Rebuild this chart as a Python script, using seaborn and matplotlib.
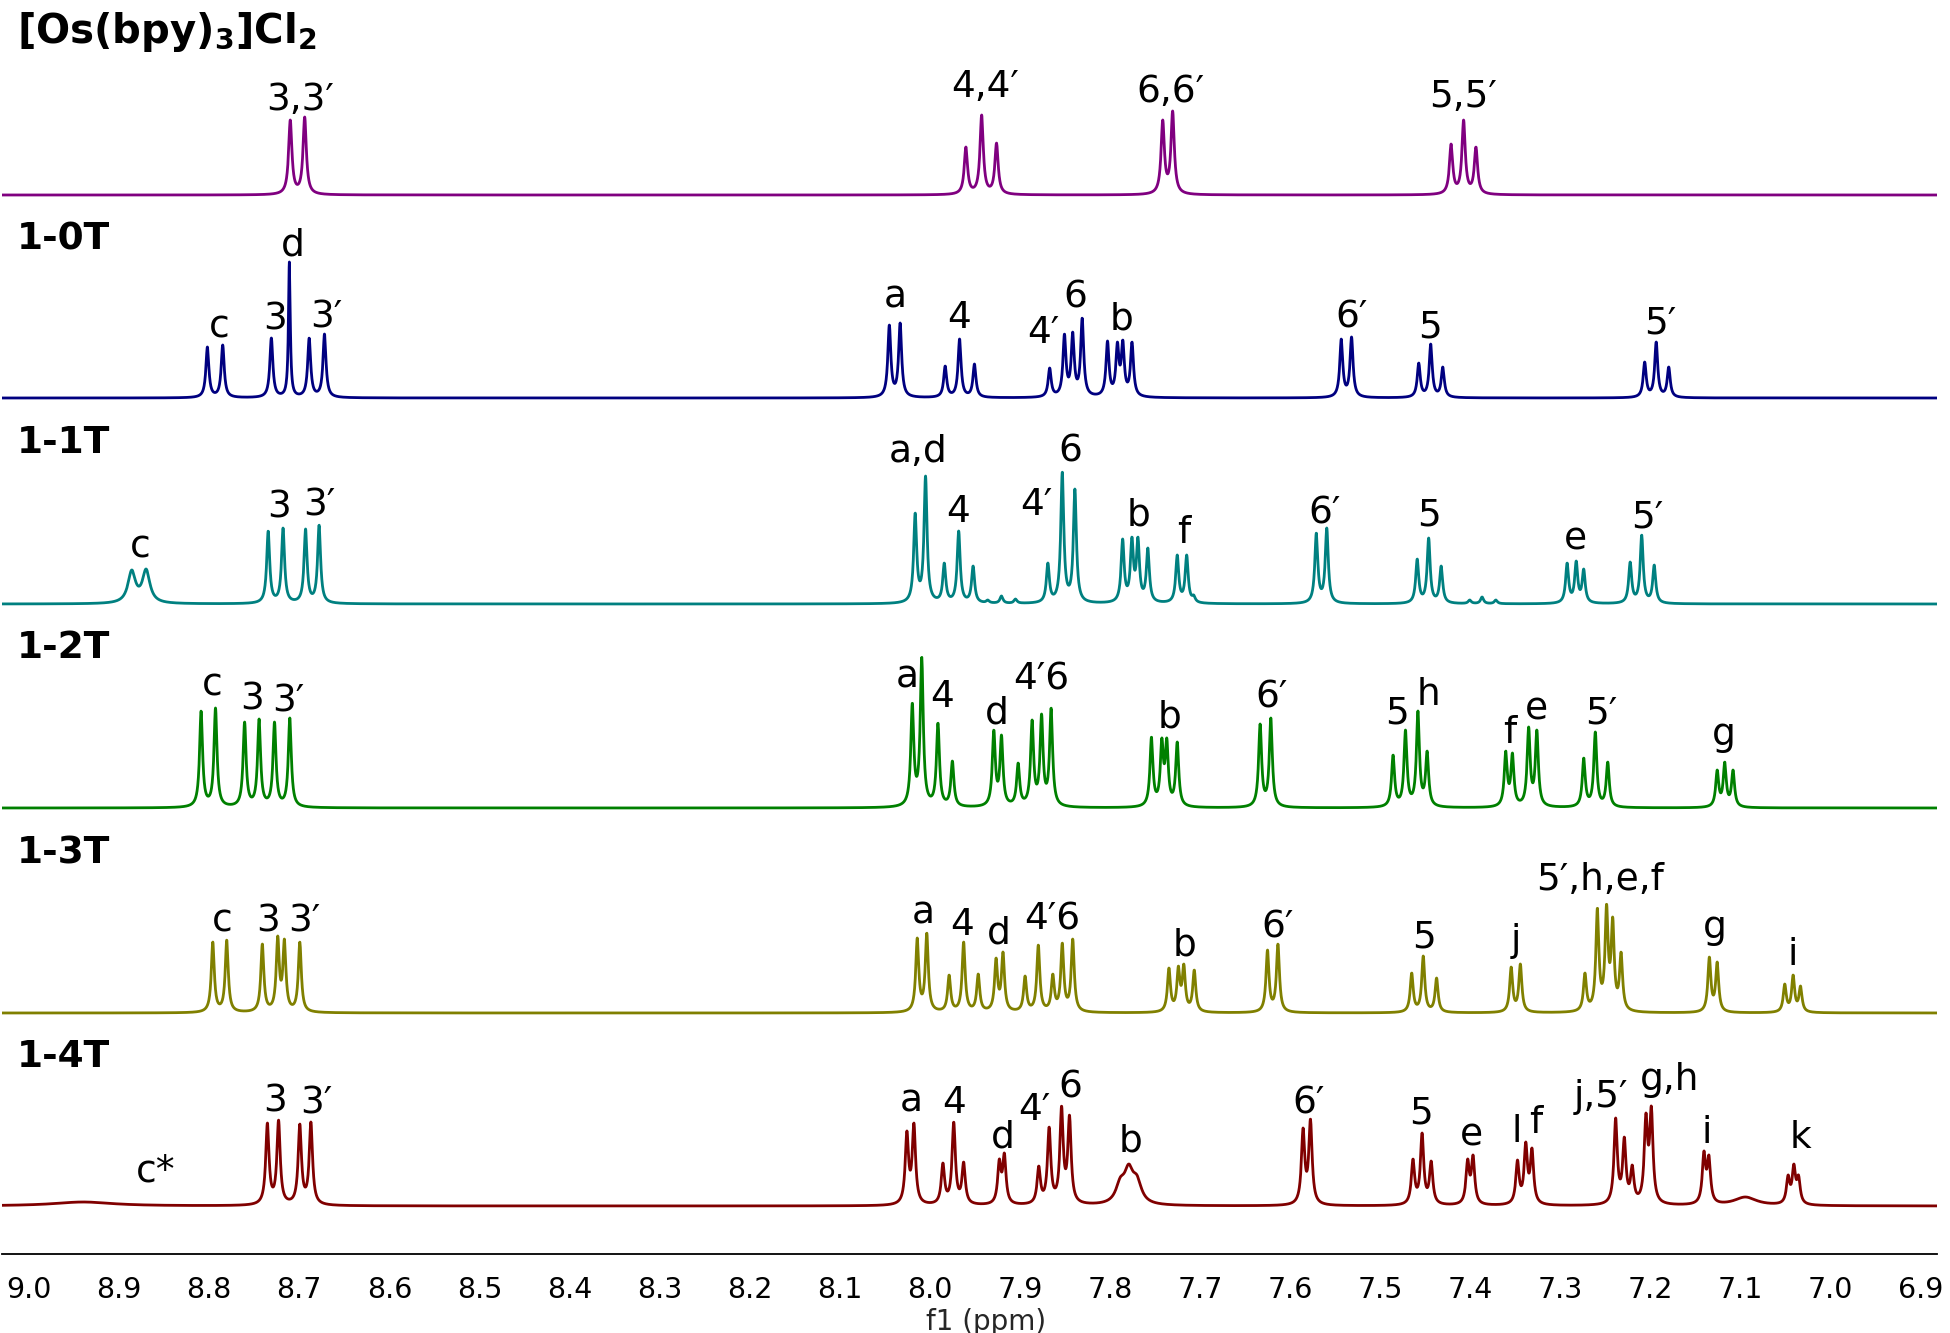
import numpy as np
import pandas as pd
import seaborn as sns
import matplotlib.pyplot as plt

# Peaks: (shift in ppm, peak height in px above baseline[, half width])
os_peaks = [(8.710, 75), (8.694, 78),
            (7.960, 48), (7.9425, 80), (7.926, 52),
            (7.7415, 75), (7.7305, 84),
            (7.4214, 51), (7.4075, 75), (7.3938, 48)]

t0_peaks = [(8.802, 51), (8.785, 53), (8.731, 60), (8.711, 136, 0.0012), (8.689, 60), (8.672, 64),
            (8.045, 73), (8.033, 75), (7.983, 32), (7.967, 59), (7.9505, 34),
            (7.867, 30), (7.8506, 64), (7.8414, 66), (7.8309, 80),
            (7.8028, 57), (7.7918, 56), (7.7858, 58), (7.7756, 56),
            (7.5433, 59), (7.5319, 61), (7.4573, 35), (7.444, 54), (7.4306, 31),
            (7.2065, 36), (7.1937, 56), (7.1798, 31)]

t1_peaks = [(8.886, 34, 0.005), (8.870, 35, 0.005), (8.7345, 73), (8.718, 76), (8.693, 75), (8.678, 79),
            (8.0163, 91), (8.0048, 128), (7.984, 41), (7.968, 73), (7.952, 38),
            (7.9357, 4), (7.9205, 8), (7.9049, 5),
            (7.869, 41), (7.853, 132), (7.839, 115),
            (7.786, 65), (7.7757, 67), (7.769, 67), (7.758, 56),
            (7.7254, 49), (7.7149, 49), (7.7071, 9),
            (7.571, 71), (7.5594, 76), (7.459, 45), (7.4463, 66), (7.4324, 38),
            (7.4007, 4), (7.387, 7), (7.3717, 4),
            (7.2926, 41), (7.2825, 43), (7.2742, 35),
            (7.2226, 42), (7.2098, 69), (7.1959, 39)]

t2_peaks = [(8.809, 97), (8.793, 100), (8.7607, 86), (8.7446, 89), (8.7275, 86), (8.7105, 90),
            (8.0195, 105), (8.009, 151), (7.991, 85), (7.975, 47),
            (7.929, 78), (7.9205, 73), (7.902, 45), (7.8865, 88), (7.876, 94), (7.8654, 100),
            (7.754, 71), (7.7425, 70), (7.737, 70), (7.7254, 66),
            (7.6334, 84), (7.6215, 90),
            (7.4858, 53), (7.472, 78), (7.4582, 97), (7.448, 57),
            (7.3607, 57), (7.3533, 55), (7.3353, 81), (7.3262, 78),
            (7.2741, 50), (7.2613, 76), (7.2475, 46),
            (7.126, 38), (7.1176, 46), (7.1084, 38)]

t3_peaks = [(8.796, 71), (8.7805, 73), (8.741, 69), (8.7239, 77), (8.7165, 74), (8.6994, 71),
            (8.014, 75), (8.0034, 80), (7.9786, 38), (7.9625, 71), (7.9463, 39),
            (7.9265, 55), (7.9188, 61), (7.8943, 37), (7.8796, 68), (7.8635, 39),
            (7.853, 70), (7.8414, 74),
            (7.7346, 45), (7.7241, 47), (7.7181, 49), (7.7065, 43),
            (7.6252, 63), (7.6136, 69),
            (7.4651, 40), (7.4523, 57), (7.4375, 35), (7.3547, 46), (7.3445, 49),
            (7.2728, 40), (7.259, 105), (7.2488, 109), (7.242, 96), (7.2327, 61),
            (7.1347, 56), (7.126, 51), (7.051, 29), (7.0417, 38), (7.0335, 27)]

t4_peaks = [(8.94, 4, 0.04), (8.7354, 83), (8.723, 86), (8.6994, 82), (8.6871, 84),
            (8.0255, 75), (8.0177, 83), (7.9855, 43), (7.9735, 84), (7.9625, 44),
            (7.9229, 47), (7.9173, 53), (7.8791, 40), (7.8676, 79), (7.8538, 100), (7.845, 91),
            (7.7885, 29, 0.006), (7.7792, 42, 0.006), (7.7701, 31, 0.006),
            (7.5857, 78), (7.5775, 87), (7.4637, 47), (7.4536, 73), (7.4435, 45),
            (7.403, 47), (7.397, 51), (7.3477, 46), (7.3385, 64), (7.3316, 58),
            (7.2387, 88), (7.2291, 69), (7.2203, 41), (7.2051, 93), (7.1991, 100),
            (7.1407, 55), (7.1352, 51), (7.0947, 9, 0.015),
            (7.0473, 31), (7.0409, 42), (7.0357, 31)]

# peak assignments: (text, ppm, height of text baseline above spectrum baseline)
os_labels = [("3,3′", 8.699, 85), ("4,4′", 7.939, 98), ("6,6′", 7.7333, 93), ("5,5′", 7.408, 88)]
t0_labels = [("c", 8.789, 61), ("3", 8.7273, 68), ("d", 8.7075, 143), ("3′", 8.6704, 70),
             ("a", 8.0389, 90), ("4", 7.9673, 70), ("4′", 7.874, 55), ("6", 7.839, 91),
             ("b", 7.7873, 68), ("6′", 7.532, 71), ("5", 7.4444, 61), ("5′", 7.189, 65)]
t1_labels = [("c", 8.876, 46), ("3", 8.7227, 87), ("3′", 8.678, 89), ("a,d", 8.0128, 142),
             ("4", 7.969, 82), ("4′", 7.8817, 89), ("6", 7.8437, 142), ("b", 7.7685, 79),
             ("f", 7.7183, 61), ("6′", 7.5617, 81), ("5", 7.446, 79), ("e", 7.2834, 54),
             ("5′", 7.2042, 77)]
t2_labels = [("c", 8.7962, 113), ("3", 8.7526, 98), ("3′", 8.7123, 96), ("a", 8.0255, 121),
             ("4", 7.9864, 101), ("d", 7.9258, 85), ("4′6", 7.8759, 118), ("b", 7.7344, 81),
             ("6′", 7.6205, 100), ("5", 7.4819, 85), ("h", 7.446, 103), ("f", 7.3558, 65),
             ("e", 7.3271, 89), ("5′", 7.2547, 85), ("g", 7.1184, 63)]
t3_labels = [("c", 8.785, 81), ("3", 8.7342, 81), ("3′", 8.694, 81), ("a", 8.0071, 89),
             ("4", 7.9648, 78), ("d", 7.923, 69), ("4′6", 7.8644, 84), ("b", 7.7172, 58),
             ("6′", 7.6143, 76), ("5", 7.4513, 65), ("j", 7.349, 62), ("5′,h,e,f", 7.2557, 123),
             ("g", 7.1287, 75), ("i", 7.042, 48)]
t4_labels = [("c*", 8.8596, 24), ("3", 8.7273, 94), ("3′", 8.6813, 93), ("a", 8.0209, 95),
             ("4", 7.9729, 93), ("d", 7.9192, 58), ("4′", 7.8839, 86), ("6", 7.8437, 109),
             ("b", 7.7777, 54), ("6′", 7.58, 93), ("5", 7.4543, 83), ("e", 7.399, 61),
             ("l", 7.349, 64), ("f", 7.3271, 73), ("j,5′", 7.2547, 99), ("g,h", 7.1787, 116),
             ("i", 7.1373, 63), ("k", 7.0334, 58)]

samples = ['Os', '1-0T', '1-1T', '1-2T', '1-3T', '1-4T']
titles = [r'$\mathbf{[Os(bpy)_3]Cl_2}$', '1-0T', '1-1T', '1-2T', '1-3T', '1-4T']
all_peaks = [os_peaks, t0_peaks, t1_peaks, t2_peaks, t3_peaks, t4_peaks]
all_labels = [os_labels, t0_labels, t1_labels, t2_labels, t3_labels, t4_labels]
line_hw = [0.0022, 0.002, 0.002, 0.002, 0.002, 0.0022]
colors = ['#800080', '#000080', '#008080', '#008000', '#808000', '#800000']

# stacking offsets (px above axis line) and title heights above each baseline
offsets = [1059, 856, 650, 446, 241, 48]
title_h = [152, 148, 151, 150, 150, 139]

grid = np.linspace(6.86, 9.05, 9000)


def lorentz(x, x0, w):
    return 1.0 / (1.0 + ((x - x0) / w) ** 2)


def build(peaks, width):
    pos = np.array([p[0] for p in peaks])
    hgt = np.array([p[1] for p in peaks], dtype=float)
    hw = np.array([p[2] if len(p) > 2 else width for p in peaks])
    # amplitudes so that the summed curve hits the observed heights at the peak positions
    m = lorentz(pos[:, None], pos[None, :], hw[None, :])
    amp = np.clip(np.linalg.solve(m, hgt), 0, None)
    return (amp[None, :] * lorentz(grid[:, None], pos[None, :], hw[None, :])).sum(axis=1)


frames = []
for name, peaks, w, off in zip(samples, all_peaks, line_hw, offsets):
    frames.append(pd.DataFrame({'ppm': grid, 'y': build(peaks, w) + off, 'sample': name}))
df = pd.concat(frames, ignore_index=True)

sns.set_style('white')
plt.rcParams['font.family'] = ['DejaVu Sans']
plt.rcParams['mathtext.fontset'] = 'dejavusans'

fig = plt.figure(figsize=(19.5, 13.33), dpi=100)
ax = fig.add_axes([2 / 1950, 79 / 1333, 1935 / 1950, 1254 / 1333])

sns.lineplot(data=df, x='ppm', y='y', hue='sample', palette=dict(zip(samples, colors)),
             estimator=None, sort=False, legend=False, linewidth=2.0, ax=ax)

ax.set_xlim(9.03, 6.882)
ax.set_ylim(0, 1254)

for off, labels in zip(offsets, all_labels):
    for txt, x, h in labels:
        ax.text(x, off + h, txt, ha='center', va='baseline', fontsize=27, color='black')

trans = ax.get_yaxis_transform()
for off, th, title, fs in zip(offsets, title_h, titles, [29, 27, 27, 27, 27, 27]):
    ax.text(0.0075, off + th, title, transform=trans, ha='left', va='baseline',
            fontsize=fs, fontweight='bold', color='black')

ax.set_xticks(np.arange(6.9, 9.001, 0.1))
ax.set_xticks(np.arange(6.95, 9.001, 0.1), minor=True)
ax.set_xticklabels([f'{v:.1f}' for v in np.arange(6.9, 9.001, 0.1)])
ax.tick_params(axis='x', which='both', direction='out', length=6.5, width=1.2,
               labelsize=20.5, pad=9, colors='black')
ax.set_yticks([])
ax.set_ylabel('')
ax.set_xlabel('f1 (ppm)', fontsize=20)
ax.xaxis.set_label_coords(0.5085, -0.043)

for s in ['left', 'top', 'right']:
    ax.spines[s].set_visible(False)
ax.spines['bottom'].set_linewidth(1.3)
ax.spines['bottom'].set_color('black')

fig.savefig('out.png', dpi=100)
